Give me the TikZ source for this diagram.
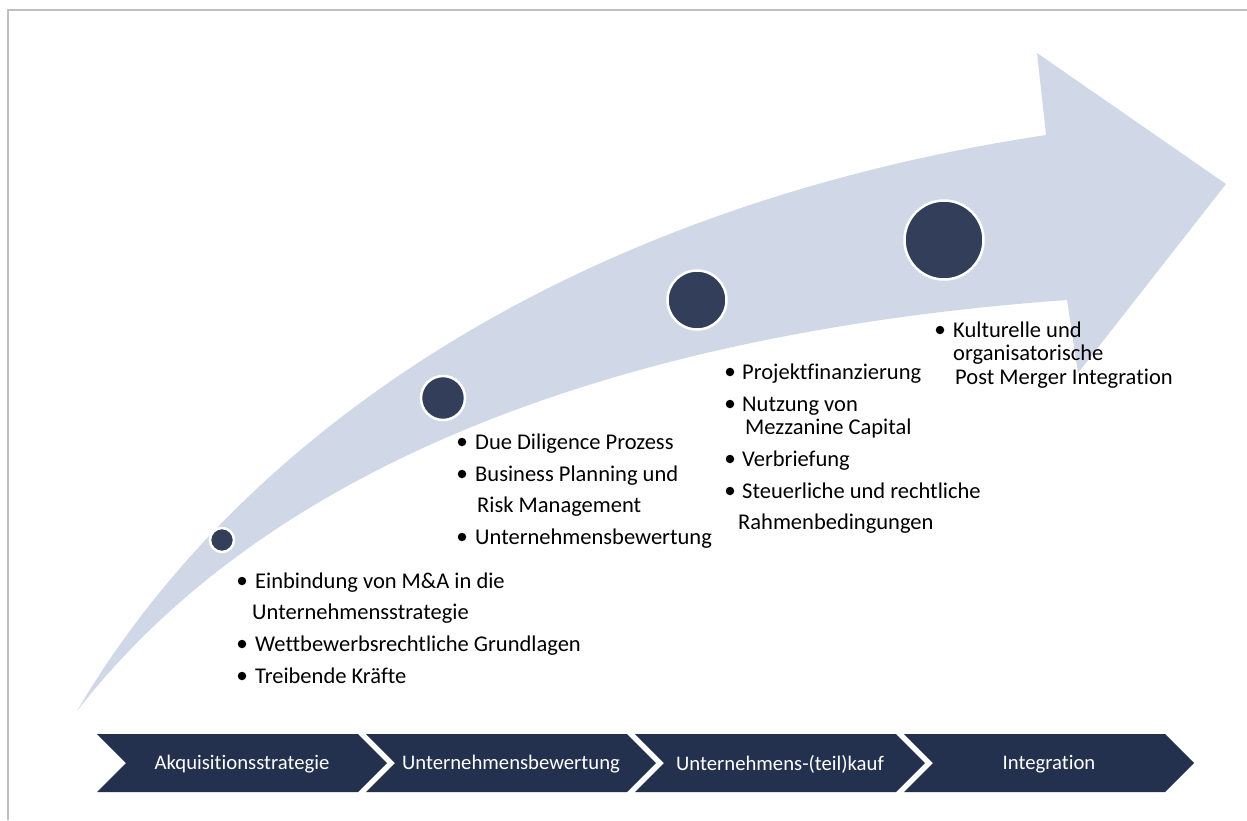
\documentclass[tikz,border=0pt]{standalone}
\usepackage{fontspec}
\setmainfont{Carlito}[Ligatures=NoCommon]
\definecolor{arrowfill}{HTML}{D0D8E8}
\definecolor{dotfill}{HTML}{333F5A}
\definecolor{chevfill}{HTML}{23314F}
\definecolor{framegray}{HTML}{BFBFBF}
\begin{document}
\begin{tikzpicture}[x=1pt,y=-1pt,
  milestone/.style={circle,fill=dotfill,draw=white,line width=2.5pt,inner sep=0pt},
  bul/.style={circle,fill=black,inner sep=0pt,minimum size=8.5pt},
  itemtext/.style={anchor=mid west,inner sep=0pt,yshift=-5pt,font=\fontsize{22.5}{26}\selectfont},
  chevtext/.style={text=white,inner sep=0pt,yshift=-1pt,font=\fontsize{20.7}{24}\selectfont},
  chevron/.style={fill=chevfill}]
\useasboundingbox (0,0) rectangle (1247,820);
% frame (top and left)
\draw[framegray,line width=2.5pt] (8,820) -- (8,10) -- (1247,10);
% big curved arrow
\fill[arrowfill] (77,711) .. controls (230,450) and (550,210) .. (1046,135)
  -- (1037,53) -- (1226,184) -- (1078,373) -- (1067,300)
  .. controls (650,330) and (280,450) .. (77,711) -- cycle;
% milestones
\node[milestone,minimum size=24pt] (m1) at (222,540) {};
\node[milestone,minimum size=44pt] (m2) at (443,398) {};
\node[milestone,minimum size=59pt] (m3) at (697,300) {};
\node[milestone,minimum size=79pt] (m4) at (944,240) {};
% chevrons
\foreach \x/\n in {97/1,366/2,635/3,904/4}{
  \fill[chevron] (\x,734) -- (\x+261,734) -- (\x+290,763) -- (\x+261,792) -- (\x,792) -- (\x+29,763) -- cycle;
  \coordinate (c\n) at (\x+145,763);
}
\node[chevtext] (t1) at (c1) {Akquisitionsstrategie};
\node[chevtext] (t2) at (c2) {Unternehmensbewertung};
\node[chevtext] (t3) at (c3) {Unternehmens-(teil)kauf};
\node[chevtext] (t4) at (c4) {Integration};
% group 1
\node[bul] (g1b1) at (242,581) {};
\node[itemtext] (g1l1) at (255,581) {Einbindung von M\&A in die};
\node[itemtext] (g1l2) at (252,612) {Unternehmensstrategie};
\node[bul] (g1b2) at (242,644) {};
\node[itemtext] (g1l3) at (255,644) {Wettbewerbsrechtliche Grundlagen};
\node[bul] (g1b3) at (242,676) {};
\node[itemtext] (g1l4) at (255,676) {Treibende Kräfte};
% group 2
\node[bul] (g2b1) at (462,442) {};
\node[itemtext] (g2l1) at (475,442) {Due Diligence Prozess};
\node[bul] (g2b2) at (462,474) {};
\node[itemtext] (g2l2) at (475,474) {Business Planning und};
\node[itemtext] (g2l3) at (477,505) {Risk Management};
\node[bul] (g2b3) at (462,537) {};
\node[itemtext] (g2l4) at (475,537) {Unternehmensbewertung};
% group 3
\node[bul] (g3b1) at (730,372) {};
\node[itemtext] (g3l1) at (742,372) {Projektfinanzierung};
\node[bul] (g3b2) at (730,404) {};
\node[itemtext] (g3l2) at (742,404) {Nutzung von};
\node[itemtext] (g3l3) at (745,427) {Mezzanine Capital};
\node[bul] (g3b3) at (730,459) {};
\node[itemtext] (g3l4) at (742,459) {Verbriefung};
\node[bul] (g3b4) at (730,491) {};
\node[itemtext] (g3l5) at (742,491) {Steuerliche und rechtliche};
\node[itemtext] (g3l6) at (738,522) {Rahmenbedingungen};
% group 4
\node[bul] (g4b1) at (940,330) {};
\node[itemtext] (g4l1) at (953,330) {Kulturelle und};
\node[itemtext] (g4l2) at (953,353) {organisatorische};
\node[itemtext] (g4l3) at (955,377) {Post Merger Integration};
\end{tikzpicture}
\end{document}
